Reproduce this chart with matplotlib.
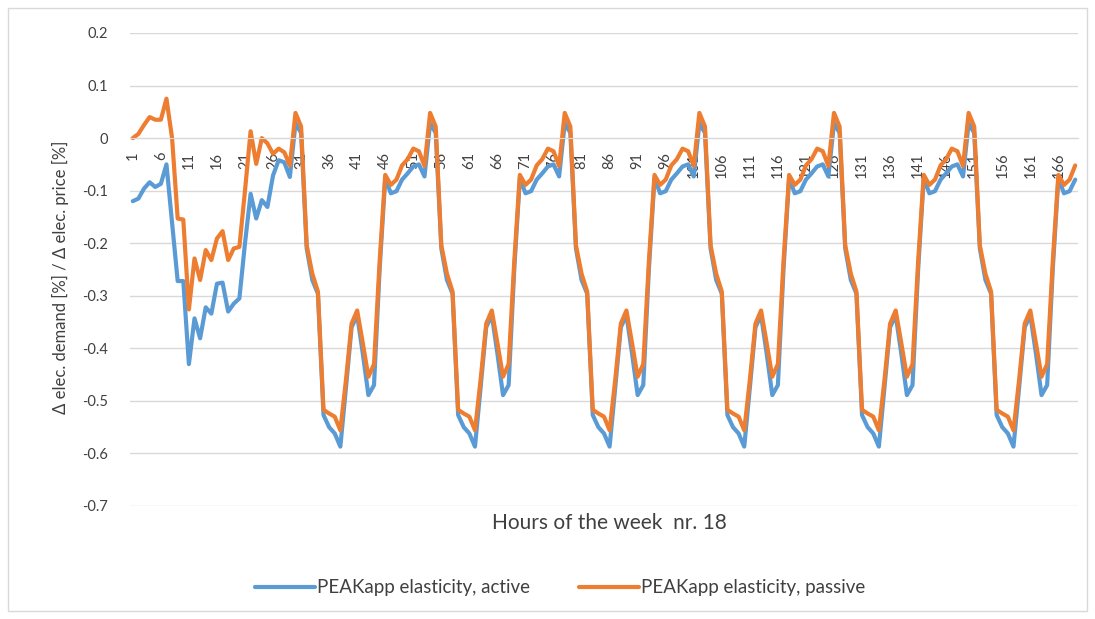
import matplotlib
matplotlib.use('Agg')
import matplotlib.pyplot as plt
from matplotlib.patches import Rectangle
import numpy as np

plt.rcParams['font.family'] = ['Lato', 'DejaVu Sans']

# ── data (hours 1..169) ──
hours = np.arange(1, 170)

# PEAKapp elasticity, active (blue)
active = [
    # hours 1-29
    -0.120, -0.115, -0.096, -0.084, -0.093, -0.087, -0.050, -0.160, -0.272, -0.272,
    -0.430, -0.343, -0.381, -0.322, -0.334, -0.277, -0.275, -0.330, -0.315, -0.305,
    -0.200, -0.106, -0.153, -0.118, -0.131, -0.071, -0.042, -0.046, -0.074,
    # hours 30-53
    0.028, 0.010, -0.210, -0.270, -0.296, -0.527, -0.550, -0.562, -0.587, -0.475,
    -0.360, -0.337, -0.410, -0.489, -0.470, -0.250, -0.076, -0.105, -0.101, -0.079,
    -0.067, -0.054, -0.050, -0.073,
    # hours 54-77
    0.028, 0.010, -0.210, -0.270, -0.296, -0.527, -0.550, -0.562, -0.587, -0.475,
    -0.360, -0.337, -0.410, -0.489, -0.470, -0.250, -0.076, -0.105, -0.101, -0.079,
    -0.067, -0.054, -0.050, -0.073,
    # hours 78-101
    0.028, 0.010, -0.210, -0.270, -0.296, -0.527, -0.550, -0.562, -0.587, -0.475,
    -0.360, -0.337, -0.410, -0.489, -0.470, -0.250, -0.076, -0.105, -0.101, -0.079,
    -0.067, -0.054, -0.050, -0.073,
    # hours 102-125
    0.028, 0.010, -0.210, -0.270, -0.296, -0.527, -0.550, -0.562, -0.587, -0.475,
    -0.360, -0.337, -0.410, -0.489, -0.470, -0.250, -0.076, -0.105, -0.101, -0.079,
    -0.067, -0.054, -0.050, -0.073,
    # hours 126-149
    0.028, 0.010, -0.210, -0.270, -0.296, -0.527, -0.550, -0.562, -0.587, -0.475,
    -0.360, -0.337, -0.410, -0.489, -0.470, -0.250, -0.076, -0.105, -0.101, -0.079,
    -0.067, -0.054, -0.050, -0.073,
    # hours 150-169
    0.028, 0.010, -0.210, -0.270, -0.296, -0.527, -0.550, -0.562, -0.587, -0.475,
    -0.360, -0.337, -0.410, -0.489, -0.470, -0.250, -0.076, -0.105, -0.101, -0.079,
]

# PEAKapp elasticity, passive (orange)
passive = [
    # hours 1-29
    0.000, 0.008, 0.025, 0.040, 0.035, 0.035, 0.075, 0.000, -0.153, -0.155,
    -0.326, -0.229, -0.270, -0.213, -0.232, -0.191, -0.177, -0.232, -0.210, -0.207,
    -0.100, 0.013, -0.049, 0.000, -0.010, -0.030, -0.020, -0.027, -0.052,
    # hours 30-53
    0.048, 0.022, -0.204, -0.258, -0.292, -0.517, -0.524, -0.530, -0.556, -0.460,
    -0.353, -0.328, -0.390, -0.454, -0.430, -0.235, -0.070, -0.089, -0.079, -0.052,
    -0.040, -0.020, -0.025, -0.053,
    # hours 54-77
    0.048, 0.022, -0.204, -0.258, -0.292, -0.517, -0.524, -0.530, -0.556, -0.460,
    -0.353, -0.328, -0.390, -0.454, -0.430, -0.235, -0.070, -0.089, -0.079, -0.052,
    -0.040, -0.020, -0.025, -0.053,
    # hours 78-101
    0.048, 0.022, -0.204, -0.258, -0.292, -0.517, -0.524, -0.530, -0.556, -0.460,
    -0.353, -0.328, -0.390, -0.454, -0.430, -0.235, -0.070, -0.089, -0.079, -0.052,
    -0.040, -0.020, -0.025, -0.053,
    # hours 102-125
    0.048, 0.022, -0.204, -0.258, -0.292, -0.517, -0.524, -0.530, -0.556, -0.460,
    -0.353, -0.328, -0.390, -0.454, -0.430, -0.235, -0.070, -0.089, -0.079, -0.052,
    -0.040, -0.020, -0.025, -0.053,
    # hours 126-149
    0.048, 0.022, -0.204, -0.258, -0.292, -0.517, -0.524, -0.530, -0.556, -0.460,
    -0.353, -0.328, -0.390, -0.454, -0.430, -0.235, -0.070, -0.089, -0.079, -0.052,
    -0.040, -0.020, -0.025, -0.053,
    # hours 150-169
    0.048, 0.022, -0.204, -0.258, -0.292, -0.517, -0.524, -0.530, -0.556, -0.460,
    -0.353, -0.328, -0.390, -0.454, -0.430, -0.235, -0.070, -0.089, -0.079, -0.052,
]

x_ticks = list(range(1, 167, 5))
y_ticks = [0.2, 0.1, 0.0, -0.1, -0.2, -0.3, -0.4, -0.5, -0.6, -0.7]
y_ticklabels = ['0.2', '0.1', '0', '-0.1', '-0.2', '-0.3', '-0.4', '-0.5', '-0.6', '-0.7']

BLUE = '#5B9BD5'
ORANGE = '#ED7D31'
GRID = '#D9D9D9'
TEXT = '#404040'

W, H = 1095, 619
fig = plt.figure(figsize=(W / 100, H / 100), dpi=100)
ax = fig.add_axes([130 / W, 1 - 506 / H, 948 / W, 473 / H])

# ── lines ──
ax.plot(hours, active, color=BLUE, lw=3.0, solid_joinstyle='round',
        solid_capstyle='round', label='PEAKapp elasticity, active')
ax.plot(hours, passive, color=ORANGE, lw=3.0, solid_joinstyle='round',
        solid_capstyle='round', label='PEAKapp elasticity, passive')

# ── axes styling ──
# category axis crosses at 0 (set before tick labels: set_position resets ticks)
for s in ['top', 'right', 'left']:
    ax.spines[s].set_visible(False)
ax.spines['bottom'].set_position(('data', 0))
ax.spines['bottom'].set_color(GRID)

ax.set_xlim(0.5, 169.5)
ax.set_ylim(-0.7, 0.2)
ax.set_yticks(y_ticks)
ax.set_yticklabels(y_ticklabels)
ax.set_xticks(x_ticks)
ax.set_xticklabels([str(t) for t in x_ticks])
ax.grid(axis='y', color=GRID, lw=1.0)
ax.set_axisbelow(True)
ax.tick_params(axis='y', length=0, pad=16, labelsize=10.5, labelcolor=TEXT)
ax.tick_params(axis='x', length=0, pad=10, labelsize=10.5, labelcolor=TEXT,
               labelrotation=90)

# ── titles ──
fig.text(60 / W, 1 - 277 / H, 'Δ elec. demand [%] / Δ elec. price [%]',
         rotation=90, ha='center', va='center', fontsize=12, color=TEXT)
fig.text(609 / W, 1 - 523 / H, 'Hours of the week  nr. 18',
         ha='center', va='center', fontsize=15, color=TEXT)

fig.legend(loc='center', bbox_to_anchor=(560 / W, 1 - 588 / H), ncol=2,
           frameon=False, fontsize=13.5, handlelength=3.2, handletextpad=0.1,
           columnspacing=2.6, labelcolor=TEXT)

# chart border
fig.patches.append(Rectangle((8 / W, 8 / H), 1079 / W, 603 / H,
                             transform=fig.transFigure, fill=False,
                             edgecolor=GRID, lw=1.0))

fig.savefig('out.png', dpi=100)
